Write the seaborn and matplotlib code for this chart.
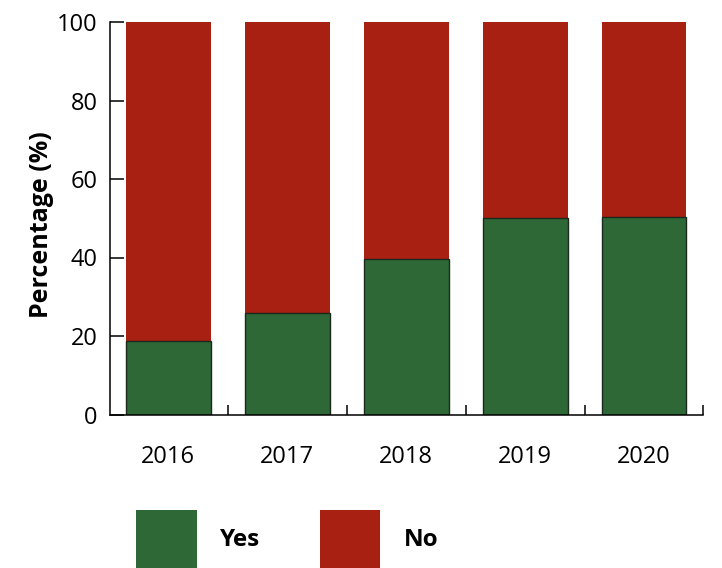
import numpy as np
import pandas as pd
import matplotlib
matplotlib.use("Agg")
import matplotlib.pyplot as plt
import matplotlib.patches as mpatches
import seaborn as sns

sns.set_theme(style="ticks")
plt.rcParams['font.family'] = ['Open Sans', 'DejaVu Sans']
plt.rcParams.update({'text.color': 'black', 'axes.labelcolor': 'black',
                     'xtick.color': 'black', 'ytick.color': 'black'})

# data
years = ['2016', '2017', '2018', '2019', '2020']
yes_pct = [18.7, 25.8, 39.6, 50.0, 50.2]
no_pct = [81.3, 74.2, 60.4, 50.0, 49.8]

green = '#2D6836'
red = '#A82012'

df = pd.DataFrame({'Year': years, 'Yes': yes_pct, 'No': no_pct})
df['Total'] = df['Yes'] + df['No']

fig = plt.figure(figsize=(7.22, 5.68), dpi=100)
ax = fig.add_axes([110 / 722, 1 - 414.5 / 568, (703.5 - 110) / 722, (414.5 - 22) / 568])

# stacked: draw the total in red, then the Yes part on top in green
sns.barplot(data=df, x='Year', y='Total', color=red, width=0.714,
            saturation=1, edgecolor='none', ax=ax)
sns.barplot(data=df, x='Year', y='Yes', color=green, width=0.714,
            saturation=1, edgecolor='#1a2a1c', linewidth=1.0, ax=ax)

ax.set_xlim(-0.49, 4.5)
ax.set_ylim(0, 100)
ax.set_yticks([0, 20, 40, 60, 80, 100])
ax.set_xlabel('')
ax.set_ylabel('Percentage (%)', fontsize=18, fontweight='bold')
ax.yaxis.set_label_coords(-0.094, 0.485)

ax.tick_params(axis='y', direction='in', length=10, width=1.1, labelsize=17, pad=9)
ax.tick_params(axis='x', which='major', length=0, labelsize=17, pad=22)
ax.set_xticks([0.5, 1.5, 2.5, 3.5, 4.5], minor=True)
ax.tick_params(axis='x', which='minor', direction='in', length=7, width=1.1)

for side in ['top', 'right']:
    ax.spines[side].set_visible(False)
for side in ['left', 'bottom']:
    ax.spines[side].set_linewidth(1.1)
    ax.spines[side].set_color('black')

handles = [mpatches.Patch(facecolor=green, edgecolor='none', label='Yes'),
           mpatches.Patch(facecolor=red, edgecolor='none', label='No')]
fig.legend(handles=handles, loc='upper left', bbox_to_anchor=(136 / 722, 1 - 510 / 568),
           ncol=2, frameon=False, prop={'size': 17.5, 'weight': 'bold'},
           handlelength=2.5, handleheight=3.3, handletextpad=0.95, columnspacing=2.45,
           borderpad=0, borderaxespad=0)

fig.savefig('out.png', dpi=100)
